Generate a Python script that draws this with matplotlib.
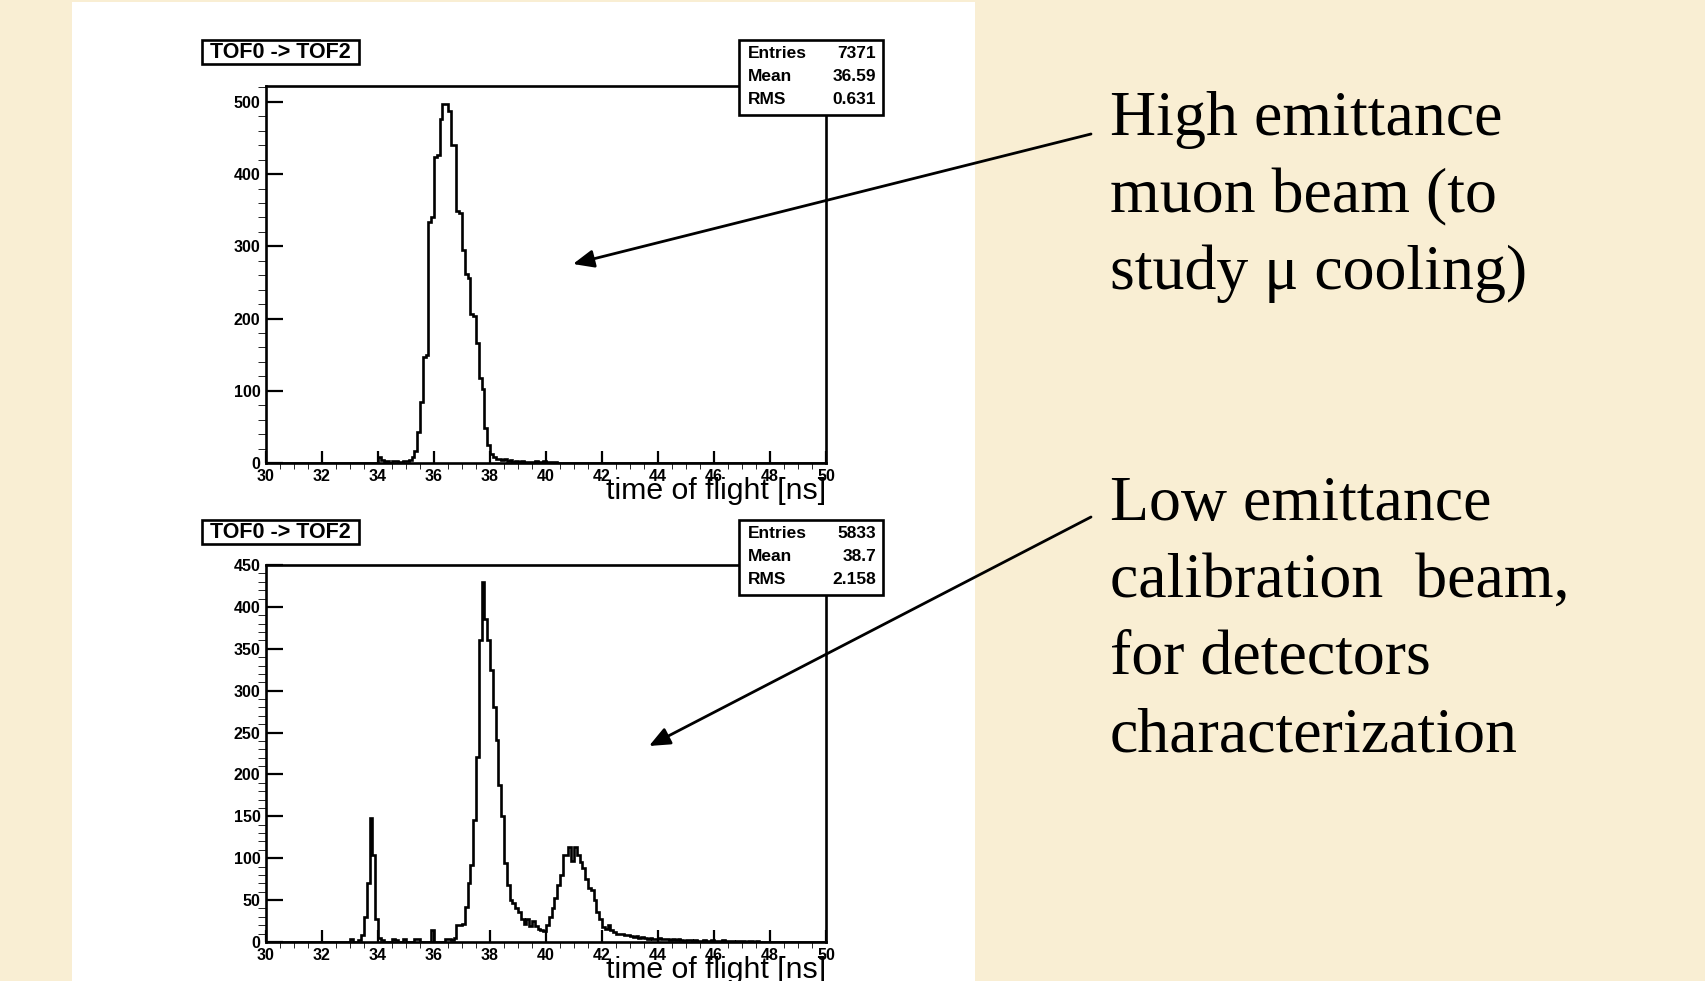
# ToF histograms (TOF0 -> TOF2) with two beam annotations, slide style

import matplotlib.pyplot as plt
import numpy as np
from matplotlib.patches import Rectangle
from matplotlib.ticker import MultipleLocator, FormatStrFormatter

# ---- data ----
x_min, x_max, bin_w = 30.0, 50.0, 0.1

# upper histogram: counts per 0.1 ns bin, first bin starts at top_start
top_start = 34.0
top_counts = [8, 4, 0, 3, 0, 3, 3, 0, 2, 3,
              3, 4, 9, 16, 43, 85, 147, 150, 334, 340,
              424, 427, 477, 497, 497, 488, 441, 440, 349, 346,
              295, 262, 256, 206, 204, 166, 118, 103, 48, 25,
              13, 9, 6, 5, 4, 5, 3, 4, 2, 3,
              2, 3, 1, 2, 2, 1, 3, 1, 2, 3,
              2, 1, 2, 1]
top_stats = [("Entries", "7371"), ("Mean", "36.59"), ("RMS", "0.631")]

# lower histogram
bot_start = 33.0
bot_counts = [4, 0, 0, 2, 8, 30, 70, 148, 104, 28,
              5, 2, 0, 0, 0, 4, 2, 0, 0, 4,
              0, 0, 0, 3, 4, 0, 0, 0, 0, 14,
              0, 0, 0, 0, 3, 4, 2, 5, 20, 20,
              22, 42, 70, 92, 146, 221, 360, 430, 386, 360,
              325, 280, 241, 187, 150, 94, 68, 50, 46, 40,
              36, 28, 21, 28, 19, 25, 19, 16, 14, 13,
              20, 30, 40, 52, 68, 80, 104, 104, 113, 97,
              113, 104, 96, 88, 75, 64, 62, 50, 36, 28,
              18, 16, 20, 14, 12, 10, 10, 9, 8, 8,
              7, 6, 7, 5, 6, 5, 4, 5, 4, 3,
              5, 3, 4, 3, 2, 3, 2, 3, 2, 1,
              2, 2, 1, 2, 1, 1, 2, 1, 1, 2,
              1, 1, 1, 2, 1, 1, 1, 0, 1, 1,
              1, 0, 1, 1, 0, 1]
bot_stats = [("Entries", "5833"), ("Mean", "38.7"), ("RMS", "2.158")]

hist_title = "TOF0 -> TOF2"
x_title = "time of flight [ns]"
top_note = ["High emittance", "muon beam (to", "study \u03bc cooling)"]
bot_note = ["Low emittance", "calibration  beam,", "for detectors", "characterization"]

W, H = 1705, 981
bg_color = '#f9eed3'


def full_hist(start, counts):
    n = int(round((x_max - x_min) / bin_w))
    h = np.zeros(n)
    i0 = int(round((start - x_min) / bin_w))
    h[i0:i0 + len(counts)] = counts
    return h


def style_axes(ax, ymax, ymajor, yminor):
    ax.set_xlim(x_min, x_max)
    ax.set_ylim(0, ymax)
    ax.xaxis.set_major_locator(MultipleLocator(2))
    ax.xaxis.set_minor_locator(MultipleLocator(0.5))
    ax.yaxis.set_major_locator(MultipleLocator(ymajor))
    ax.yaxis.set_minor_locator(MultipleLocator(yminor))
    ax.xaxis.set_major_formatter(FormatStrFormatter('%d'))
    ax.yaxis.set_major_formatter(FormatStrFormatter('%d'))
    ax.tick_params(direction='in', top=False, right=False, width=1.6,
                   labelsize=11.5, pad=4, colors='black')
    ax.tick_params(axis='y', which='major', length=12)
    ax.tick_params(axis='y', which='minor', length=6)
    ax.tick_params(axis='x', which='major', length=9)
    ax.tick_params(axis='x', which='minor', length=4.5)
    for lbl in ax.get_xticklabels() + ax.get_yticklabels():
        lbl.set_fontweight('bold')
        lbl.set_family('Liberation Sans')
    for sp in ax.spines.values():
        sp.set_linewidth(1.9)
    ax.text(1.0, -0.036, x_title, transform=ax.transAxes, ha='right', va='top',
            fontsize=21.8, family='Liberation Sans')


fig = plt.figure(figsize=(W / 100, H / 100), dpi=100)
fig.patch.set_facecolor(bg_color)

# white slide panel behind the plots
fig.add_artist(Rectangle((72 / W, 0), (975 - 72) / W, 1 - 2 / H,
                         transform=fig.transFigure, facecolor='white',
                         edgecolor='none', zorder=-1))

edges = np.linspace(x_min, x_max, int(round((x_max - x_min) / bin_w)) + 1)

# ---- upper histogram ----
ax1 = fig.add_axes([266 / W, 1 - 463 / H, 560 / W, 377 / H])
ax1.stairs(full_hist(top_start, top_counts), edges, color='black', lw=1.9)
style_axes(ax1, 522, 100, 20)

# ---- lower histogram ----
ax2 = fig.add_axes([266 / W, 1 - 942 / H, 560 / W, 377 / H])
ax2.stairs(full_hist(bot_start, bot_counts), edges, color='black', lw=1.9)
style_axes(ax2, 450, 50, 10)

# ---- overlay in pixel coordinates: boxes, notes, arrows ----
ov = fig.add_axes([0, 0, 1, 1], zorder=5)
ov.set_xlim(0, W)
ov.set_ylim(H, 0)
ov.axis('off')
ov.patch.set_alpha(0)

for top_y, stats in [(40, top_stats), (520, bot_stats)]:
    # title box
    ov.add_patch(Rectangle((202, top_y), 157, 24, facecolor='white',
                           edgecolor='black', lw=1.9))
    ov.text(280.5, top_y + 12.5, hist_title, ha='center', va='center',
            fontsize=15.5, fontweight='bold', family='Liberation Sans')
    # stats box
    ov.add_patch(Rectangle((739, top_y), 144, 75, facecolor='white',
                           edgecolor='black', lw=1.9))
    for i, (name, val) in enumerate(stats):
        yy = top_y + 13 + i * 23.5
        ov.text(748, yy, name, ha='left', va='center', fontsize=12.5,
                fontweight='bold', family='Liberation Sans')
        ov.text(876, yy, val, ha='right', va='center', fontsize=12.5,
                fontweight='bold', family='Liberation Sans')

for base, lines in [(135, top_note), (520, bot_note)]:
    for i, line in enumerate(lines):
        ov.text(1110, base + i * 77, line, ha='left', va='baseline',
                fontsize=46, family='Liberation Serif', color='black')

arrow = dict(arrowstyle='-|>,head_length=0.7,head_width=0.3', color='black',
             lw=2, mutation_scale=18, shrinkA=0, shrinkB=0)
ov.annotate('', xy=(573, 264), xytext=(1091, 134), arrowprops=arrow)
ov.annotate('', xy=(649, 746), xytext=(1091, 517), arrowprops=arrow)

plt.savefig('out.png', dpi=100, facecolor=fig.get_facecolor())
